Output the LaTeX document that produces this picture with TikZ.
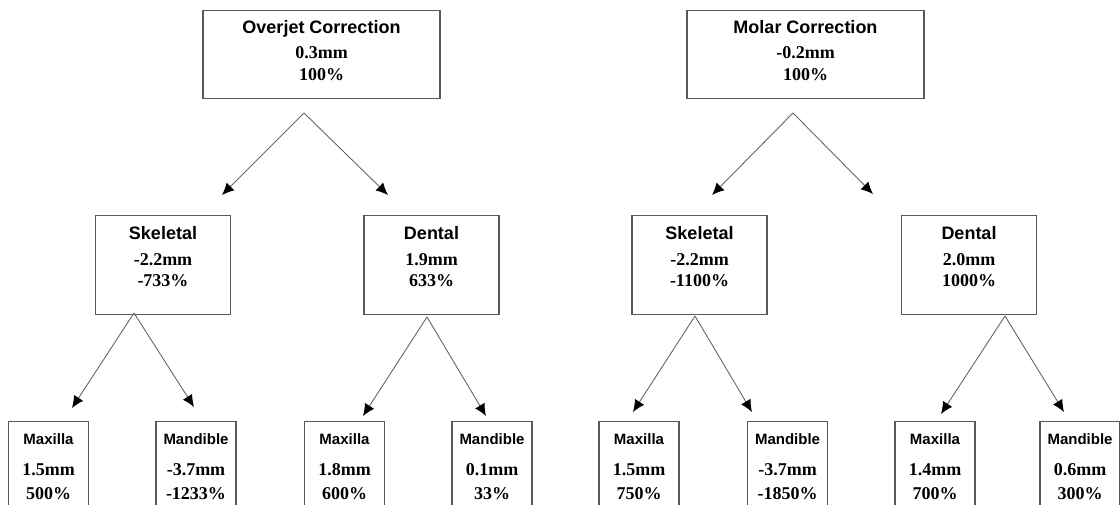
\documentclass[tikz,border=0pt]{standalone}
\usepackage{fontspec}
\setmainfont{Liberation Serif}
\setsansfont{Liberation Sans}
\usetikzlibrary{positioning,arrows.meta}

\newcommand{\hd}[1]{{\sffamily #1}}
\newcommand{\hdsm}[1]{{\sffamily\fontsize{15}{18}\selectfont #1}}

\tikzset{
  box/.style={draw=black!65,line width=1.1pt,inner sep=0pt},
  topbox/.style={box,minimum width=237pt,minimum height=88pt,anchor=north},
  midbox/.style={box,minimum width=135pt,minimum height=99pt,anchor=north},
  lowbox/.style={box,minimum width=80pt,minimum height=130pt,anchor=north},
  txt/.style={align=center,inner sep=0pt,font=\fontsize{18}{21.5}\selectfont\bfseries},
  lowtxt/.style={txt,font=\fontsize{18}{23.5}\selectfont\bfseries},
  link/.style={->,draw=black!60,line width=0.9pt}
}

\begin{document}
\begin{tikzpicture}[>={Latex[length=12pt,width=11pt,color=black]},x=1pt,y=-1pt]
    \useasboundingbox (0,0) rectangle (1120,504);
    \clip (0,0) rectangle (1120,504);

    % top row
    \node[topbox] (oj) at (321.5,10) {};
    \node[txt,below=10pt of oj.north] (oj-t) {\hd{Overjet Correction}\\[4pt]0.3mm\\100\%};
    \node[topbox] (mo) at (805.5,10) {};
    \node[txt,below=10pt of mo.north] (mo-t) {\hd{Molar Correction}\\[4pt]-0.2mm\\100\%};

    % middle row
    \foreach \nm/\x/\ttl/\mm/\pc in {skA/163/Skeletal/-2.2mm/-733,deA/431.5/Dental/1.9mm/633,
                                     skB/699.5/Skeletal/-2.2mm/-1100,deB/969/Dental/2.0mm/1000}
    {
        \node[midbox] (\nm) at (\x,215) {};
        \node[txt,below=11pt of \nm.north] (\nm-t) {\hd{\ttl}\\[4.5pt]\mm\\\pc\%};
    }

    % bottom row
    \foreach \nm/\x/\ttl/\mm/\pc in {mxA/48.5/Maxilla/1.5mm/500,mdA/196/Mandible/-3.7mm/-1233,
                                     mxB/344.5/Maxilla/1.8mm/600,mdB/492/Mandible/0.1mm/33,
                                     mxC/639/Maxilla/1.5mm/750,mdC/787.5/Mandible/-3.7mm/-1850,
                                     mxD/935/Maxilla/1.4mm/700,mdD/1080/Mandible/0.6mm/300}
    {
        \node[lowbox] (\nm) at (\x,421) {};
        \node[lowtxt,below=12.5pt of \nm.north] (\nm-t) {\hdsm{\ttl}\\[7.5pt]\mm\\\pc\%};
    }

    % split points and arrow ends
    \coordinate (oj-a) at (304,113);  \coordinate (oj-l) at (222,195);  \coordinate (oj-r) at (388,195);
    \coordinate (mo-a) at (793,113);  \coordinate (mo-l) at (712,195);  \coordinate (mo-r) at (873,194);
    \coordinate (skA-a) at (134,313); \coordinate (skA-l) at (72,408);  \coordinate (skA-r) at (194,407);
    \coordinate (deA-a) at (427,317); \coordinate (deA-l) at (363,416); \coordinate (deA-r) at (486,416);
    \coordinate (skB-a) at (695,316); \coordinate (skB-l) at (633,412); \coordinate (skB-r) at (752,412);
    \coordinate (deB-a) at (1005,316); \coordinate (deB-l) at (941,414); \coordinate (deB-r) at (1064,412);

    \foreach \s in {oj,mo,skA,deA,skB,deB}
    {
        \draw[link] (\s-a)--(\s-l);
        \draw[link] (\s-a)--(\s-r);
    }
\end{tikzpicture}
\end{document}
